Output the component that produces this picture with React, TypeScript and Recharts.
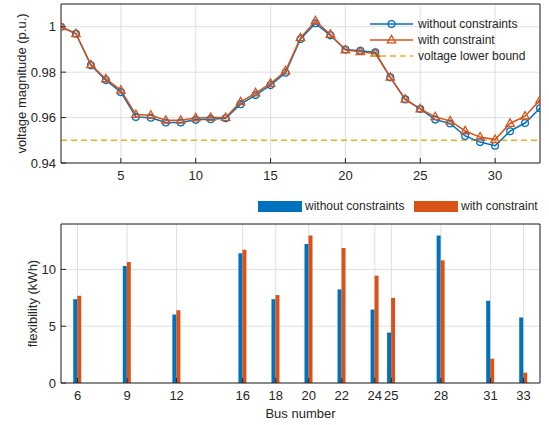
import React from "react";
import {
  LineChart,
  Line,
  BarChart,
  Bar,
  XAxis,
  YAxis,
  CartesianGrid,
  ReferenceLine,
} from "recharts";

const busNumbers = [
  1, 2, 3, 4, 5, 6, 7, 8, 9, 10, 11, 12, 13, 14, 15, 16, 17, 18, 19, 20, 21,
  22, 23, 24, 25, 26, 27, 28, 29, 30, 31, 32, 33,
];
const voltageWithout = [
  1.0, 0.9969, 0.983, 0.9765, 0.9712, 0.9603, 0.9599, 0.9578, 0.9578, 0.959,
  0.9593, 0.9597, 0.9659, 0.9699, 0.9743, 0.9797, 0.9946, 1.0015, 0.9962, 0.99,
  0.9894, 0.9887, 0.9777, 0.968, 0.9638, 0.9591, 0.9574, 0.9519, 0.9492,
  0.9476, 0.954, 0.9576, 0.9641,
];
const voltageWith = [
  1.0, 0.9969, 0.9832, 0.977, 0.972, 0.9613, 0.961, 0.9588, 0.9588, 0.9598,
  0.96, 0.96, 0.9669, 0.9708, 0.975, 0.9805, 0.9951, 1.0025, 0.9966, 0.9897,
  0.989, 0.9882, 0.9777, 0.968, 0.9638, 0.9603, 0.9585, 0.9541, 0.9514,
  0.9503, 0.9574, 0.9606, 0.9677,
];
const voltageLowerBound = 0.95;
const voltXTicks = [5, 10, 15, 20, 25, 30];
const voltYTicks = [0.94, 0.96, 0.98, 1];

const flexBuses = [6, 9, 12, 16, 18, 20, 22, 24, 25, 28, 31, 33];
const flexWithout = [
  7.38, 10.3, 6.03, 11.42, 7.38, 12.24, 8.24, 6.47, 4.44, 12.98, 7.24, 5.77,
];
const flexWith = [
  7.68, 10.65, 6.41, 11.74, 7.74, 12.98, 11.89, 9.45, 7.5, 10.8, 2.14, 0.91,
];
const flexYTicks = [0, 5, 10];

const BLUE = "#0072BD";
const ORANGE = "#D95319";
const YELLOW = "#EDB120";
const AXIS = "#262626";
const GRID = "#dfdfdf";
const FONT = "'Liberation Sans', Arial, sans-serif";

const voltData = busNumbers.map((b, i) => ({
  bus: b,
  without: voltageWithout[i],
  with: voltageWith[i],
}));
const flexData = flexBuses.map((b, i) => ({
  bus: b,
  without: flexWithout[i],
  with: flexWith[i],
}));

const tickStyle = { fontSize: 13, fill: AXIS, fontFamily: FONT };

const CircleDot = (props: any) => {
  const { cx, cy, index } = props;
  if (cx == null || cy == null) return <g key={"c" + index} />;
  return (
    <circle
      key={"c" + index}
      cx={cx}
      cy={cy}
      r={3.4}
      fill="none"
      stroke={BLUE}
      strokeWidth={1.3}
    />
  );
};

const TriangleDot = (props: any) => {
  const { cx, cy, index } = props;
  if (cx == null || cy == null) return <g key={"t" + index} />;
  return (
    <path
      key={"t" + index}
      d={`M${cx},${cy - 4.6}L${cx - 4.2},${cy + 2.8}L${cx + 4.2},${cy + 2.8}Z`}
      fill="none"
      stroke={ORANGE}
      strokeWidth={1.3}
    />
  );
};

function TopLegend() {
  const row = (y: number) => ({
    position: "absolute" as const,
    left: 0,
    top: y,
    height: 16,
    display: "flex",
    alignItems: "center",
  });
  const text = { marginLeft: 5, fontSize: 12, color: AXIS, whiteSpace: "nowrap" as const };
  return (
    <div
      style={{
        position: "absolute",
        left: 366,
        top: 11,
        width: 171,
        height: 55,
        fontFamily: FONT,
      }}
    >
      <div style={row(5)}>
        <svg width={47} height={16}>
          <line x1={4} y1={8} x2={47} y2={8} stroke={BLUE} strokeWidth={1.5} />
          <circle cx={25.5} cy={8} r={3.4} fill="none" stroke={BLUE} strokeWidth={1.3} />
        </svg>
        <span style={text}>without constraints</span>
      </div>
      <div style={row(21)}>
        <svg width={47} height={16}>
          <line x1={4} y1={8} x2={47} y2={8} stroke={ORANGE} strokeWidth={1.5} />
          <path d="M25.5,3.4L21.3,10.8L29.7,10.8Z" fill="none" stroke={ORANGE} strokeWidth={1.3} />
        </svg>
        <span style={text}>with constraint</span>
      </div>
      <div style={row(37)}>
        <svg width={47} height={16}>
          <line x1={4} y1={8} x2={47} y2={8} stroke={YELLOW} strokeWidth={1.5} strokeDasharray="6 4" />
        </svg>
        <span style={text}>voltage lower bound</span>
      </div>
    </div>
  );
}

function BottomLegend() {
  const rect = (c: string, left: number) => ({
    position: "absolute" as const,
    left,
    top: 201,
    width: 44,
    height: 11,
    background: c,
  });
  const text = (left: number) => ({
    position: "absolute" as const,
    left,
    top: 198,
    fontSize: 12,
    lineHeight: "16px",
    color: AXIS,
    fontFamily: FONT,
    whiteSpace: "nowrap" as const,
  });
  return (
    <>
      <div style={rect(BLUE, 258)} />
      <div style={text(305)}>without constraints</div>
      <div style={rect(ORANGE, 414)} />
      <div style={text(461)}>with constraint</div>
    </>
  );
}

export default function App() {
  return (
    <div
      style={{
        position: "absolute",
        left: 0,
        top: 0,
        width: 549,
        height: 425,
        background: "#fff",
        fontFamily: FONT,
      }}
    >
      <div style={{ position: "absolute", left: 0, top: 0 }}>
        <LineChart
          width={549}
          height={185}
          data={voltData}
          margin={{ top: 3, right: 8, bottom: 0, left: 0 }}
        >
          <CartesianGrid stroke={GRID} strokeWidth={1} />
          <XAxis
            dataKey="bus"
            type="number"
            domain={[1, 33]}
            ticks={voltXTicks}
            height={22}
            tick={tickStyle}
            tickSize={-5}
            tickMargin={13}
            stroke={AXIS}
            allowDataOverflow
          />
          <XAxis
            xAxisId="top"
            dataKey="bus"
            type="number"
            orientation="top"
            domain={[1, 33]}
            ticks={voltXTicks}
            height={1}
            tick={false}
            tickSize={-5}
            stroke={AXIS}
          />
          <YAxis
            type="number"
            domain={[0.94, 1.01]}
            ticks={voltYTicks}
            width={61}
            tick={tickStyle}
            tickSize={-5}
            tickMargin={10}
            stroke={AXIS}
            allowDataOverflow
            label={{
              value: "voltage magnitude (p.u.)",
              angle: -90,
              position: "center",
              dx: -9,
              style: { fontSize: 13, fill: AXIS, fontFamily: FONT },
            }}
          />
          <YAxis
            yAxisId="right"
            orientation="right"
            type="number"
            domain={[0.94, 1.01]}
            ticks={voltYTicks}
            width={1}
            tick={false}
            tickSize={-5}
            stroke={AXIS}
          />
          <ReferenceLine
            y={voltageLowerBound}
            stroke={YELLOW}
            strokeWidth={1.5}
            strokeDasharray="6 4"
          />
          <Line
            dataKey="without"
            stroke={BLUE}
            strokeWidth={1.5}
            dot={CircleDot}
            activeDot={false}
            isAnimationActive={false}
          />
          <Line
            dataKey="with"
            stroke={ORANGE}
            strokeWidth={1.5}
            dot={TriangleDot}
            activeDot={false}
            isAnimationActive={false}
          />
        </LineChart>
      </div>
      <TopLegend />

      <div style={{ position: "absolute", left: 0, top: 190 }}>
        <BarChart
          width={549}
          height={235}
          data={flexData}
          margin={{ top: 33, right: 8, bottom: 0, left: 0 }}
          barGap={0}
          barSize={4}
        >
          <CartesianGrid stroke={GRID} strokeWidth={1} />
          <XAxis
            dataKey="bus"
            type="number"
            domain={[5, 34]}
            ticks={flexBuses}
            interval={0}
            height={42}
            tick={tickStyle}
            tickSize={-5}
            tickMargin={13}
            stroke={AXIS}
            label={{
              value: "Bus number",
              position: "center",
              dy: 9,
              style: { fontSize: 13, fill: AXIS, fontFamily: FONT },
            }}
          />
          <XAxis
            xAxisId="top"
            dataKey="bus"
            type="number"
            orientation="top"
            domain={[5, 34]}
            ticks={flexBuses}
            interval={0}
            height={1}
            tick={false}
            tickSize={-5}
            stroke={AXIS}
          />
          <YAxis
            type="number"
            domain={[0, 14]}
            ticks={flexYTicks}
            width={61}
            tick={tickStyle}
            tickSize={-5}
            tickMargin={10}
            stroke={AXIS}
            label={{
              value: "flexibility (kWh)",
              angle: -90,
              position: "center",
              dx: 2,
              style: { fontSize: 13, fill: AXIS, fontFamily: FONT },
            }}
          />
          <YAxis
            yAxisId="right"
            orientation="right"
            type="number"
            domain={[0, 14]}
            ticks={flexYTicks}
            width={1}
            tick={false}
            tickSize={-5}
            stroke={AXIS}
          />
          <Bar dataKey="without" fill={BLUE} isAnimationActive={false} />
          <Bar dataKey="with" fill={ORANGE} isAnimationActive={false} />
        </BarChart>
      </div>
      <BottomLegend />
    </div>
  );
}
